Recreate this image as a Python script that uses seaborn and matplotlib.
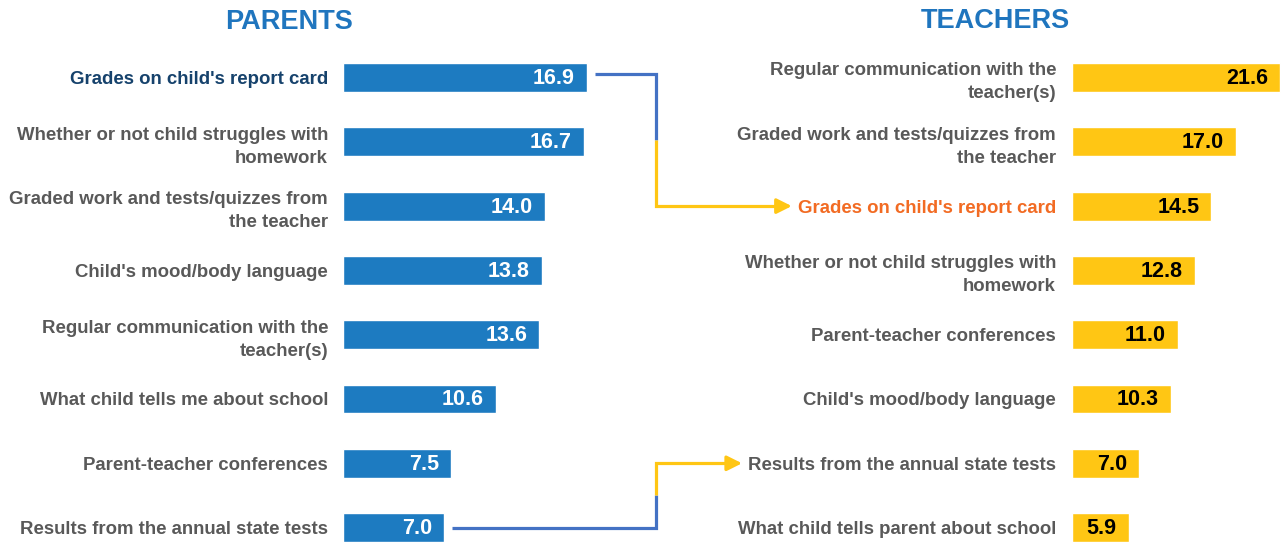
import matplotlib
matplotlib.use("Agg")
import matplotlib.pyplot as plt
import seaborn as sns

# Data
parent_labels = ["Grades on child's report card",
                 "Whether or not child struggles with\nhomework",
                 "Graded work and tests/quizzes from\nthe teacher",
                 "Child's mood/body language",
                 "Regular communication with the\nteacher(s)",
                 "What child tells me about school",
                 "Parent-teacher conferences",
                 "Results from the annual state tests"]
parent_values = [16.9, 16.7, 14.0, 13.8, 13.6, 10.6, 7.5, 7.0]

teacher_labels = ["Regular communication with the\nteacher(s)",
                  "Graded work and tests/quizzes from\nthe teacher",
                  "Grades on child's report card",
                  "Whether or not child struggles with\nhomework",
                  "Parent-teacher conferences",
                  "Child's mood/body language",
                  "Results from the annual state tests",
                  "What child tells parent about school"]
teacher_values = [21.6, 17.0, 14.5, 12.8, 11.0, 10.3, 7.0, 5.9]

# Colours
BLUE = "#1D7BC1"
YELLOW = "#FFC614"
LINE_BLUE = "#4472C4"
LABEL_GREY = "#595959"
DARK_BLUE = "#16426C"
ORANGE = "#F26B23"
TITLE_BLUE = "#1F75BE"

sns.set_style("white")
plt.rcParams['font.family'] = ['Liberation Sans', 'DejaVu Sans']

W, H = 1284, 542
fig = plt.figure(figsize=(W / 100, H / 100), dpi=100)

top_frac = 496.65 / H
ax_p = fig.add_axes([343 / W, 0, 248 / W, top_frac])
ax_t = fig.add_axes([1072 / W, 0, 211.6 / W, top_frac])

sns.barplot(x=parent_values, y=parent_labels, ax=ax_p, color=BLUE,
            saturation=1, width=0.45, orient='h')
sns.barplot(x=teacher_values, y=teacher_labels, ax=ax_t, color=YELLOW,
            saturation=1, width=0.45, orient='h')

ax_p.set_xlim(0, 17.2)
ax_t.set_xlim(0, 22.0)

for ax, vals, txt_col, pad in [(ax_p, parent_values, "white", 10.8),
                               (ax_t, teacher_values, "black", 11.5)]:
    ax.set_ylim(7.224, -0.5)
    ax.set_xlabel('')
    ax.set_ylabel('')
    ax.set_xticks([])
    ax.tick_params(axis='y', length=0, pad=pad)
    for s in ax.spines.values():
        s.set_visible(False)
    ax.grid(False)
    for lab in ax.get_yticklabels():
        lab.set_fontsize(13.4)
        lab.set_fontweight('bold')
        lab.set_color(LABEL_GREY)
        lab.set_linespacing(1.45)
        lab.set_multialignment('right')
    for i, v in enumerate(vals):
        ax.annotate(f"{v:.1f}", xy=(v, i), xytext=(-12, -1),
                    textcoords='offset pixels', ha='right', va='center',
                    fontsize=15.5, fontweight='bold', color=txt_col)

ax_p.get_yticklabels()[0].set_color(DARK_BLUE)
ax_t.get_yticklabels()[2].set_color(ORANGE)

fig.text(289 / W, 1 - 22 / H, "PARENTS", ha='center', va='center',
         fontsize=19.5, fontweight='bold', color=TITLE_BLUE)
fig.text(995 / W, 1 - 21 / H, "TEACHERS", ha='center', va='center',
         fontsize=19.5, fontweight='bold', color=TITLE_BLUE)

# Connector lines drawn on an overlay in pixel units
fig.canvas.draw()
renderer = fig.canvas.get_renderer()
ov = fig.add_axes([0, 0, 1, 1], zorder=5)
ov.set_xlim(0, W)
ov.set_ylim(0, H)
ov.axis('off')
ov.patch.set_alpha(0)

elbow_x = 656
lw = 2.3


def connect(p_idx, t_idx, y_shift):
    sx, sy = ax_p.transData.transform((parent_values[p_idx], p_idx))
    sx += 8
    sy += y_shift
    _, ey = ax_t.transData.transform((0, t_idx))
    lab = ax_t.get_yticklabels()[t_idx]
    tip = lab.get_window_extent(renderer).x0 - 6
    my = (sy + ey) / 2
    ov.plot([sx, elbow_x, elbow_x], [sy, sy, my], color=LINE_BLUE,
            lw=lw, solid_joinstyle='miter', solid_capstyle='butt')
    ov.plot([elbow_x, elbow_x, tip - 10], [my, ey, ey], color=YELLOW,
            lw=lw, solid_joinstyle='miter', solid_capstyle='butt')
    ov.annotate('', xy=(tip, ey), xytext=(tip - 12, ey),
                arrowprops=dict(arrowstyle='-|>,head_length=0.9,head_width=0.45',
                                color=YELLOW, lw=lw, shrinkA=0, shrinkB=0))


connect(0, 2, 3.5)
connect(7, 6, 0)

fig.savefig('out.png', dpi=100)
